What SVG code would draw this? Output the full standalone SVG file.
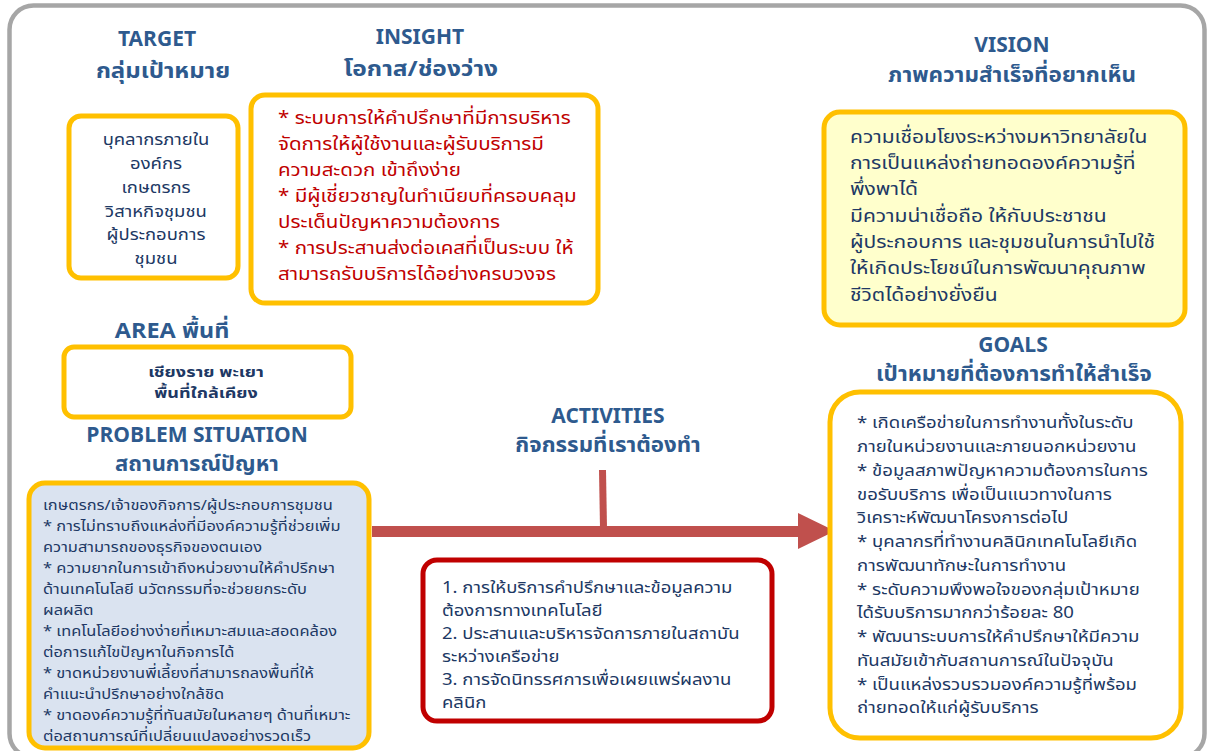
<svg xmlns="http://www.w3.org/2000/svg" width="1207" height="751" viewBox="0 0 1207 751">
<style>
text{font-family:"Noto Sans Thai","Noto Sans","Liberation Sans",sans-serif}
.t{font-size:21px;font-weight:bold;fill:#2e5a8e;text-anchor:middle}
.th{font-size:21.5px;font-weight:bold;fill:#2e5a8e;text-anchor:middle}
.c{text-anchor:middle}
.tg{font-size:16.5px;fill:#203864}
.r{font-size:18.5px;fill:#c00000}
.v{font-size:18.5px;fill:#203864}
.p{font-size:14.8px;fill:#203864}
.a{font-size:16px;fill:#203864}
.g{font-size:16.5px;fill:#203864}
.ar{font-size:14.8px;font-weight:bold;fill:#203864;text-anchor:middle}
.box{fill:#fff;stroke:#ffc000;stroke-width:5}
</style>
<rect x="9.5" y="5.5" width="1195" height="752" rx="24" fill="#fff" stroke="#a6a6a6" stroke-width="4.5"/>
<g id="connectors">
<line x1="602.5" y1="470" x2="603.5" y2="528" stroke="#c0504d" stroke-width="7"/>
<rect x="372" y="526" width="428" height="11" fill="#c0504d"/>
<polygon points="798,513 835,531 798,549" fill="#c0504d"/>
</g>
<g id="target">
<text class="t" x="157" y="46">TARGET</text>
<text class="th" transform="translate(163,0) scale(1.116,1)" x="0" y="78">กลุ่มเป้าหมาย</text>
<rect class="box" x="69" y="116" width="169" height="162" rx="12"/>
<g transform="translate(156,0) scale(1.12,1)">
<text class="tg c" x="0" y="145">บุคลากรภายใน</text>
<text class="tg c" x="0" y="169">องค์กร</text>
<text class="tg c" x="0" y="193">เกษตรกร</text>
<text class="tg c" x="0" y="217">วิสาหกิจชุมชน</text>
<text class="tg c" x="0" y="240">ผู้ประกอบการ</text>
<text class="tg c" x="0" y="264">ชุมชน</text>
</g>
</g>
<g id="insight">
<text class="t" x="420" y="44">INSIGHT</text>
<text class="th" transform="translate(421,0) scale(1.14,1)" x="0" y="76">โอกาส/ช่องว่าง</text>
<rect class="box" x="251" y="95" width="347" height="208" rx="14"/>
<g transform="translate(278,0) scale(1.11,1)">
<text class="r" x="0" y="124">* ระบบการให้คำปรึกษาที่มีการบริหาร</text>
<text class="r" x="0" y="150">จัดการให้ผู้ใช้งานและผู้รับบริการมี</text>
<text class="r" x="0" y="176">ความสะดวก เข้าถึงง่าย</text>
<text class="r" x="0" y="202">* มีผู้เชี่ยวชาญในทำเนียบที่ครอบคลุม</text>
<text class="r" x="0" y="228">ประเด็นปัญหาความต้องการ</text>
<text class="r" x="0" y="254">* การประสานส่งต่อเคสที่เป็นระบบ ให้</text>
<text class="r" x="0" y="280">สามารถรับบริการได้อย่างครบวงจร</text>
</g>
</g>
<g id="vision">
<text class="t" x="1012" y="52">VISION</text>
<text class="th" transform="translate(1012,0) scale(1.047,1)" x="0" y="82">ภาพความสำเร็จที่อยากเห็น</text>
<rect x="824" y="112" width="361" height="213" rx="16" fill="#ffffcc" stroke="#ffc000" stroke-width="5"/>
<g transform="translate(850,0) scale(1.135,1)">
<text class="v" x="0" y="143">ความเชื่อมโยงระหว่างมหาวิทยาลัยใน</text>
<text class="v" x="0" y="169">การเป็นแหล่งถ่ายทอดองค์ความรู้ที่</text>
<text class="v" x="0" y="195">พึ่งพาได้</text>
<text class="v" x="0" y="222">มีความน่าเชื่อถือ ให้กับประชาชน</text>
<text class="v" x="0" y="248">ผู้ประกอบการ และชุมชนในการนำไปใช้</text>
<text class="v" x="0" y="274">ให้เกิดประโยชน์ในการพัฒนาคุณภาพ</text>
<text class="v" x="0" y="301">ชีวิตได้อย่างยั่งยืน</text>
</g>
</g>
<g id="area">
<text class="th" transform="translate(172,0) scale(1.093,1)" x="0" y="338">AREA พื้นที่</text>
<rect class="box" x="64" y="347" width="287" height="70" rx="10"/>
<g transform="translate(206,0) scale(1.22,1)">
<text class="ar" x="0" y="377">เชียงราย พะเยา</text>
<text class="ar" x="0" y="398">พื้นที่ใกล้เคียง</text>
</g>
</g>
<g id="problem">
<text class="t" x="197" y="442">PROBLEM SITUATION</text>
<text class="th" transform="translate(197,0) scale(1.023,1)" x="0" y="471">สถานการณ์ปัญหา</text>
<rect x="29" y="483" width="340" height="265" rx="16" fill="#dae3f0" stroke="#ffc000" stroke-width="5"/>
<g transform="translate(43,0) scale(1.11,1)">
<text class="p" x="0" y="510">เกษตรกร/เจ้าของกิจการ/ผู้ประกอบการชุมชน</text>
<text class="p" x="0" y="531">* การไม่ทราบถึงแหล่งที่มีองค์ความรู้ที่ช่วยเพิ่ม</text>
<text class="p" x="0" y="552">ความสามารถของธุรกิจของตนเอง</text>
<text class="p" x="0" y="573">* ความยากในการเข้าถึงหน่วยงานให้คำปรึกษา</text>
<text class="p" x="0" y="594">ด้านเทคโนโลยี นวัตกรรมที่จะช่วยยกระดับ</text>
<text class="p" x="0" y="615">ผลผลิต</text>
<text class="p" x="0" y="636">* เทคโนโลยีอย่างง่ายที่เหมาะสมและสอดคล้อง</text>
<text class="p" x="0" y="657">ต่อการแก้ไขปัญหาในกิจการได้</text>
<text class="p" x="0" y="678">* ขาดหน่วยงานพี่เลี้ยงที่สามารถลงพื้นที่ให้</text>
<text class="p" x="0" y="699">คำแนะนำปรึกษาอย่างใกล้ชิด</text>
<text class="p" x="0" y="720">* ขาดองค์ความรู้ที่ทันสมัยในหลายๆ ด้านที่เหมาะ</text>
<text class="p" x="0" y="741">ต่อสถานการณ์ที่เปลี่ยนแปลงอย่างรวดเร็ว</text>
</g>
</g>
<g id="activities">
<text class="t" x="608" y="423">ACTIVITIES</text>
<text class="th" transform="translate(608,0) scale(1.037,1)" x="0" y="452">กิจกรรมที่เราต้องทำ</text>
<rect x="423" y="560" width="349" height="161" rx="14" fill="#fff" stroke="#c00000" stroke-width="5"/>
<g transform="translate(442,0) scale(1.156,1)">
<text class="a" x="0" y="593">1. การให้บริการคำปรึกษาและข้อมูลความ</text>
<text class="a" x="0" y="616">ต้องการทางเทคโนโลยี</text>
<text class="a" x="0" y="639">2. ประสานและบริหารจัดการภายในสถาบัน</text>
<text class="a" x="0" y="662">ระหว่างเครือข่าย</text>
<text class="a" x="0" y="685">3. การจัดนิทรรศการเพื่อเผยแพร่ผลงาน</text>
<text class="a" x="0" y="708">คลินิก</text>
</g>
</g>
<g id="goals">
<text class="t" x="1013" y="352">GOALS</text>
<text class="th" transform="translate(1014,0) scale(1.047,1)" x="0" y="381">เป้าหมายที่ต้องการทำให้สำเร็จ</text>
<rect class="box" x="830" y="392" width="351" height="346" rx="30"/>
<g transform="translate(857,0) scale(1.127,1)">
<text class="g" x="0" y="428">* เกิดเครือข่ายในการทำงานทั้งในระดับ</text>
<text class="g" x="0" y="452">ภายในหน่วยงานและภายนอกหน่วยงาน</text>
<text class="g" x="0" y="476">* ข้อมูลสภาพปัญหาความต้องการในการ</text>
<text class="g" x="0" y="500">ขอรับบริการ เพื่อเป็นแนวทางในการ</text>
<text class="g" x="0" y="523">วิเคราะห์พัฒนาโครงการต่อไป</text>
<text class="g" x="0" y="547">* บุคลากรที่ทำงานคลินิกเทคโนโลยีเกิด</text>
<text class="g" x="0" y="571">การพัฒนาทักษะในการทำงาน</text>
<text class="g" x="0" y="595">* ระดับความพึงพอใจของกลุ่มเป้าหมาย</text>
<text class="g" x="0" y="618">ได้รับบริการมากกว่าร้อยละ 80</text>
<text class="g" x="0" y="642">* พัฒนาระบบการให้คำปรึกษาให้มีความ</text>
<text class="g" x="0" y="666">ทันสมัยเข้ากับสถานการณ์ในปัจจุบัน</text>
<text class="g" x="0" y="690">* เป็นแหล่งรวบรวมองค์ความรู้ที่พร้อม</text>
<text class="g" x="0" y="713">ถ่ายทอดให้แก่ผู้รับบริการ</text>
</g>
</g>
</svg>
